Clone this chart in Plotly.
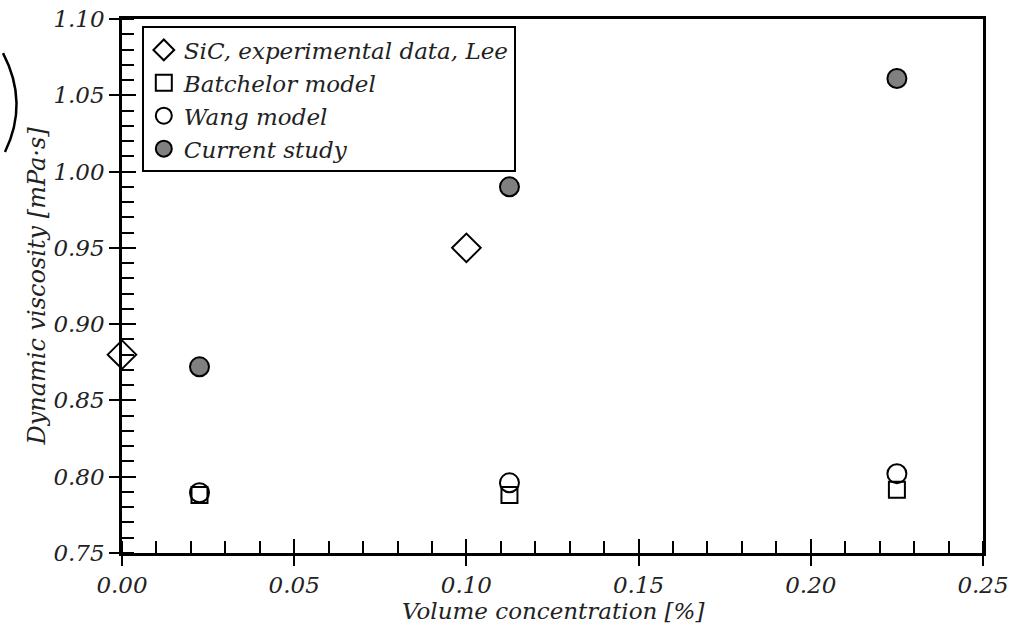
import plotly.graph_objects as go

# Data
sic_x = [0.0, 0.10]
sic_y = [0.880, 0.950]
bat_x = [0.0225, 0.1125, 0.225]
bat_y = [0.788, 0.788, 0.7915]
wang_x = [0.0225, 0.1125, 0.225]
wang_y = [0.7895, 0.796, 0.802]
cur_x = [0.0225, 0.1125, 0.225]
cur_y = [0.872, 0.990, 1.061]

FONT = "DejaVu Serif"
fig = go.Figure()
fig.add_trace(go.Scatter(x=sic_x, y=sic_y, mode="markers", name="SiC, experimental data, Lee", cliponaxis=False,
                         marker=dict(symbol="diamond", size=22, color="white", line=dict(color="black", width=2))))
fig.add_trace(go.Scatter(x=bat_x, y=bat_y, mode="markers", name="Batchelor model", cliponaxis=False,
                         marker=dict(symbol="square", size=16, color="white", line=dict(color="black", width=2))))
fig.add_trace(go.Scatter(x=wang_x, y=wang_y, mode="markers", name="Wang model", cliponaxis=False,
                         marker=dict(symbol="circle", size=19, color="rgba(255,255,255,0)", line=dict(color="black", width=2))))
fig.add_trace(go.Scatter(x=cur_x, y=cur_y, mode="markers", name="Current study", cliponaxis=False,
                         marker=dict(symbol="circle", size=19, color="#808080", line=dict(color="black", width=2))))
fig.add_trace(go.Scatter(x=[None], y=[None], xaxis="x2", yaxis="y2", showlegend=False, hoverinfo="skip"))

tickfont = dict(family=FONT, size=23, color="#222", style="italic")
common = dict(showgrid=False, zeroline=False, showline=True, linecolor="black", linewidth=2.5,
              mirror=True, ticks="outside", ticklen=10, tickwidth=2, tickcolor="black",
              tickfont=tickfont, automargin=False)
fig.update_layout(
    width=1017, height=625,
    margin=dict(l=122, r=34, t=19, b=72, autoexpand=False),
    plot_bgcolor="white", paper_bgcolor="white",
    xaxis=dict(range=[0, 0.25], dtick=0.05, tick0=0, tickformat=".2f",
               minor=dict(ticks="inside", ticklen=12, tickwidth=1.5, tickcolor="black", dtick=0.01, tick0=0, showgrid=False),
               **common),
    yaxis=dict(range=[0.75, 1.10], dtick=0.05, tick0=0.75, tickformat=".2f",
               title=dict(text="Dynamic viscosity [mPa·s]", standoff=2,
                          font=dict(family=FONT, size=24, color="#222", style="italic")),
               minor=dict(ticks="inside", ticklen=12, tickwidth=1.5, tickcolor="black", dtick=0.01, tick0=0.75, showgrid=False),
               **common),
    xaxis2=dict(overlaying="x", anchor="y2", range=[0, 0.25], dtick=0.05, tick0=0, ticks="inside",
                ticklen=14, tickwidth=2, tickcolor="black", showticklabels=False, showgrid=False,
                zeroline=False, showline=False, automargin=False),
    yaxis2=dict(overlaying="y", anchor="x2", range=[0.75, 1.10], dtick=0.05, tick0=0.75, ticks="inside",
                ticklen=14, tickwidth=2, tickcolor="black", showticklabels=False, showgrid=False,
                zeroline=False, showline=False, automargin=False),
    legend=dict(x=0.023, y=0.986, xanchor="left", yanchor="top", bgcolor="white",
                bordercolor="black", borderwidth=2,
                font=dict(family=FONT, size=23, color="#222", style="italic"),
                tracegroupgap=0, itemsizing="trace"),
    showlegend=True,
)
fig.add_annotation(text="Volume concentration [%]", xref="paper", yref="paper", x=0.5, y=-0.0815,
                   xanchor="center", yanchor="top", showarrow=False, borderpad=0,
                   font=dict(family=FONT, size=23, color="#222", style="italic"))
# stray bracket artifact at the top-left of the original image
fig.add_shape(type="path", xref="paper", yref="paper",
              path="M -0.1382,0.936 Q -0.1080,0.843 -0.1359,0.751",
              line=dict(color="black", width=2.5), layer="above")
fig.write_html("out.html")
